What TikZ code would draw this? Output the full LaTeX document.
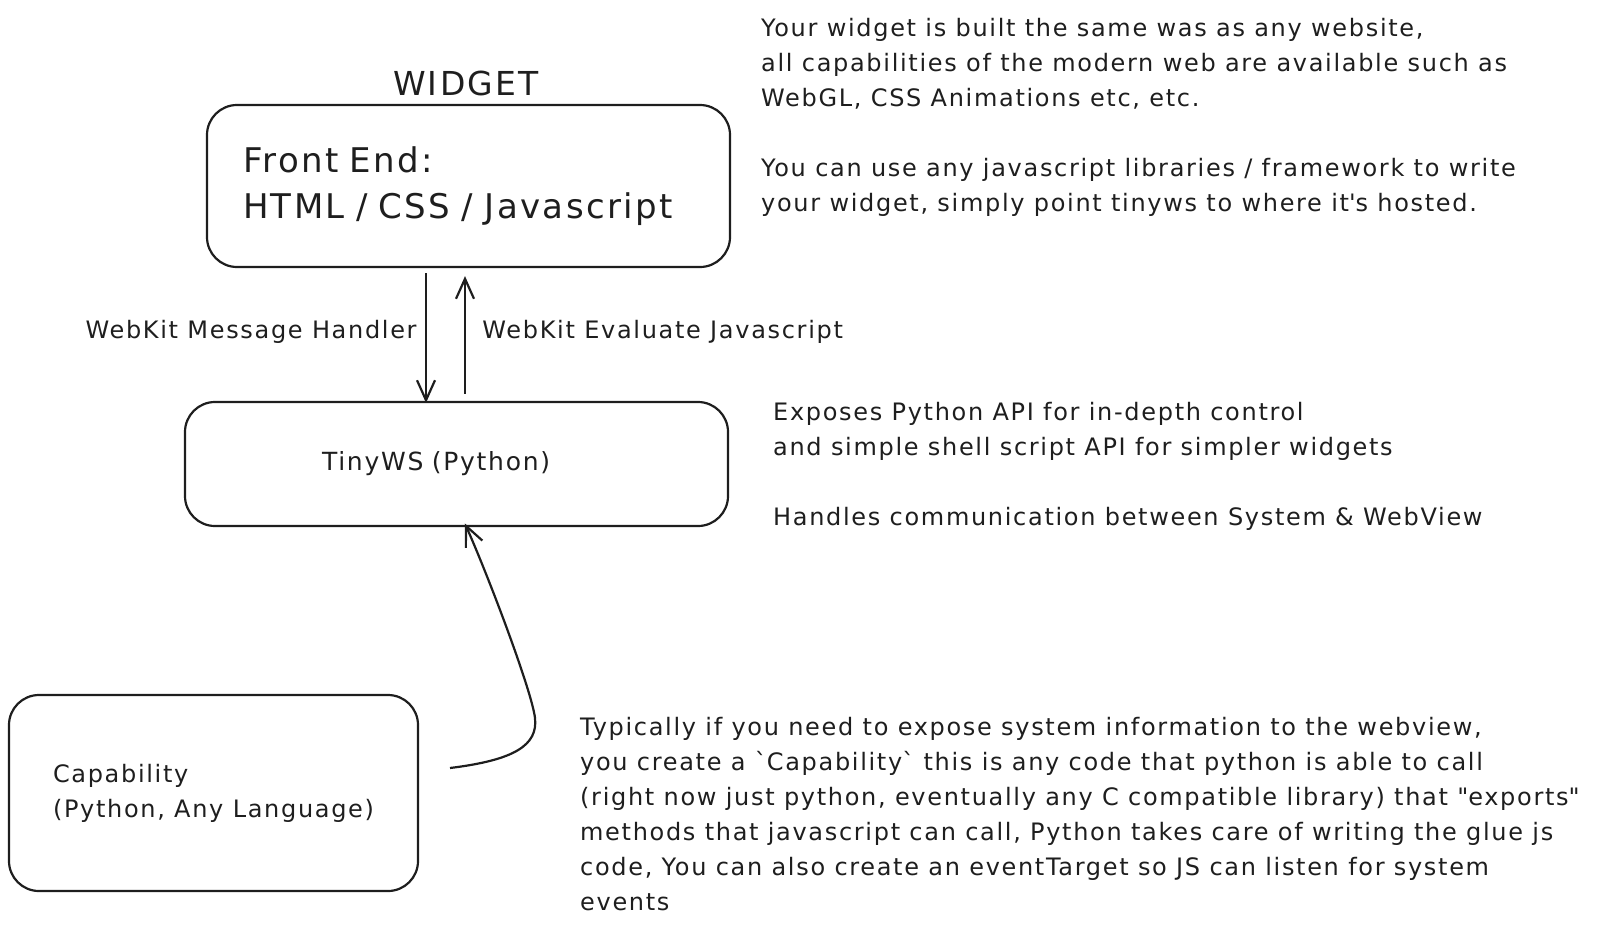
\documentclass[tikz,border=0pt]{standalone}
\usepackage{fontspec}
\setmainfont{DejaVu Sans}[LetterSpace=7]
\usetikzlibrary{arrows.meta,positioning}
\definecolor{ink}{HTML}{1E1E1E}

\begin{document}
\begin{tikzpicture}[x=1pt,y=-1pt,color=ink,
  box/.style={draw,line width=2.2pt,rounded corners=30pt,inner sep=0pt},
  note/.style={align=left,anchor=base west,inner sep=0pt,font=\fontsize{24}{35}\selectfont},
  conn/.style={line width=2.2pt,-{Straight Barb[length=20pt,width=18pt]}}]
\useasboundingbox (0,0) rectangle (1606,935);
\node[font=\fontsize{33}{38}\selectfont] (widget) at (466,83) {WIDGET};
\node[box,minimum width=523pt,minimum height=162pt,inner xsep=36pt,text width=451pt,align=left,font=\fontsize{34}{46}\selectfont] (frontend) at (468.5,186) {Front End:\\HTML / CSS / Javascript};
\node[box,minimum width=543pt,minimum height=124pt,inner xsep=137pt,text width=269pt,align=left,font=\fontsize{25}{30}\selectfont] (tinyws) at (456.5,464) {TinyWS (Python)};
\node[box,minimum width=409pt,minimum height=196pt,align=left,font=\fontsize{24}{35}\selectfont] (capability) at (213.5,793) {Capability\\(Python, Any Language)};
% notes on the right (anchored at the last line)
\node[note] (webnote) at (761,211.7) {Your widget is built the same was as any website,\\all capabilities of the modern web are available such as\\WebGL, CSS Animations etc, etc.\\[35pt]You can use any javascript libraries / framework to write\\your widget, simply point tinyws to where it\textquotesingle s hosted.};
\node[note] (pynote) at (773,525) {Exposes Python API for in-depth control\\and simple shell script API for simpler widgets\\[35pt]Handles communication between System \& WebView};
\node[note] (capnote) at (580,910) {Typically if you need to expose system information to the webview,\\you create a \textasciigrave Capability\textasciigrave{} this is any code that python is able to call\\(right now just python, eventually any C compatible library) that \textquotedbl exports\textquotedbl\\methods that javascript can call, Python takes care of writing the glue js\\code, You can also create an eventTarget so JS can listen for system\\events};
% connectors
\coordinate (msgx) at (426,0);
\coordinate (evalx) at (465,0);
\coordinate (capout) at (450,768);
\draw[conn,shorten <=5pt,shorten >=-2pt] (frontend.south -| msgx) -- node[left=5pt,yshift=3pt,font=\fontsize{24}{30}\selectfont] (msglabel) {WebKit Message Handler} (tinyws.north -| msgx);
\draw[conn,shorten <=7pt,shorten >=8pt] (tinyws.north -| evalx) -- node[right=13pt,yshift=3pt,font=\fontsize{24}{30}\selectfont] (evallabel) {WebKit Evaluate Javascript} (frontend.south -| evalx);
\draw[conn,shorten >=-4pt] (capout) .. controls (515,760) and (538,745) .. (535,718) .. controls (532,692) and (490,580) .. ([xshift=10pt]tinyws.south);
\end{tikzpicture}
\end{document}
